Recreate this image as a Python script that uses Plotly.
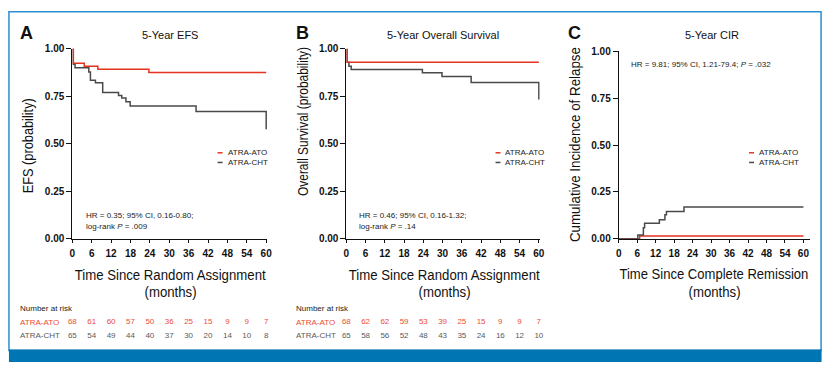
import json
import plotly.graph_objects as go

W, H = 835, 371

# ---------------- data ----------------
months_ticks = [0, 6, 12, 18, 24, 30, 36, 42, 48, 54, 60]
y_ticks = [0, 0.25, 0.5, 0.75, 1.0]
y_ticklabels = ["0.00", "0.25", "0.50", "0.75", "1.00"]

efs_ato_t = [0, 0.3, 3.7, 7.9, 23.7, 60]
efs_ato_s = [1.0, 0.924, 0.908, 0.893, 0.876, 0.876]
efs_cht_t = [0, 0.3, 0.85, 5.1, 5.6, 7.15, 9.4, 14.3, 15.3, 16.6, 17.9, 38.3, 60]
efs_cht_s = [1.0, 0.919, 0.900, 0.878, 0.835, 0.822, 0.771, 0.755, 0.742, 0.722, 0.700, 0.671, 0.577]

os_ato_t = [0, 0.2, 60]
os_ato_s = [1.0, 0.929, 0.929]
os_cht_t = [0, 0.2, 0.8, 1.5, 23.7, 29.8, 38.9, 60]
os_cht_s = [1.0, 0.929, 0.908, 0.891, 0.874, 0.854, 0.823, 0.733]

cir_ato_t = [0, 6.8, 60]
cir_ato_v = [0, 0.016, 0.016]
cir_cht_t = [0, 6.2, 8.0, 8.4, 13.2, 15.0, 15.5, 21.2, 60]
cir_cht_v = [0, 0.021, 0.060, 0.084, 0.102, 0.129, 0.146, 0.170, 0.170]

risk_efs_ato = [68, 61, 60, 57, 50, 36, 25, 15, 9, 9, 7]
risk_efs_cht = [65, 54, 49, 44, 40, 37, 30, 20, 14, 10, 8]
risk_os_ato = [68, 62, 62, 59, 53, 39, 25, 15, 9, 9, 7]
risk_os_cht = [65, 58, 56, 52, 48, 43, 35, 24, 16, 12, 10]

group_names = ["ATRA-ATO", "ATRA-CHT"]
panel_titles = ["5-Year EFS", "5-Year Overall Survival", "5-Year CIR"]
panel_letters = ["A", "B", "C"]
y_titles = ["EFS (probability)", "Overall Survival (probability)", "Cumulative Incidence of Relapse"]
x_titles = ["Time Since Random Assignment", "Time Since Random Assignment", "Time Since Complete Remission"]

# ---------------- style ----------------
RED = "#e4321f"
GRAY = "#4a4a4a"
RISK_RED = "#ee4b35"
RISK_GRAY = "#5a5a5a"
FONT = "Liberation Sans, Arial, Helvetica, sans-serif"
NARROW = "Liberation Sans Narrow, Arial Narrow, Liberation Sans, Arial, sans-serif"


def X(px):
    return px / W


def Y(py):
    return 1 - py / H


fig = go.Figure()

panels = [
    ("x", "y", efs_ato_t, efs_ato_s, efs_cht_t, efs_cht_s),
    ("x2", "y2", os_ato_t, os_ato_s, os_cht_t, os_cht_s),
    ("x3", "y3", cir_ato_t, cir_ato_v, cir_cht_t, cir_cht_v),
]
for i, (xa, ya, rt, rv, gt, gv) in enumerate(panels):
    if i == 2:
        order = [(rt, rv, RED, group_names[0]), (gt, gv, GRAY, group_names[1])]
    else:
        order = [(gt, gv, GRAY, group_names[1]), (rt, rv, RED, group_names[0])]
    for t, v, c, name in order:
        fig.add_trace(go.Scatter(x=t, y=v, mode="lines", line=dict(color=c, width=1.5, shape="hv"),
                                 name=name, xaxis=xa, yaxis=ya, showlegend=False, hoverinfo="skip"))

for xa, ya, ato, cht in [("x", "y4", risk_efs_ato, risk_efs_cht), ("x2", "y5", risk_os_ato, risk_os_cht)]:
    fig.add_trace(go.Scatter(x=months_ticks, y=[1] * len(ato), mode="text", text=[str(v) for v in ato],
                             textfont=dict(family=FONT, size=8, color=RISK_RED), xaxis=xa, yaxis=ya,
                             showlegend=False, cliponaxis=False, hoverinfo="skip"))
    fig.add_trace(go.Scatter(x=months_ticks, y=[0] * len(cht), mode="text", text=[str(v) for v in cht],
                             textfont=dict(family=FONT, size=8, color=RISK_GRAY), xaxis=xa, yaxis=ya,
                             showlegend=False, cliponaxis=False, hoverinfo="skip"))

x_dom = [(70, 266.7), (346.7, 542), (621.7, 815)]
x_rng = [[0, 60.3], [0, 60.3], [0, 62.2]]
y_dom = [(44.3, 240.7), (44.3, 240.7), (46.7, 240.7)]

common_x = dict(showline=True, linecolor="#111", linewidth=1, ticks="outside", ticklen=3, tickcolor="#111",
                tickvals=months_ticks, showgrid=False, zeroline=False,
                tickfont=dict(family=FONT, size=10, color="#111", weight="bold"), ticklabelstandoff=2)
common_y = dict(showline=True, linecolor="#111", linewidth=1, ticks="outside", ticklen=5, tickcolor="#111",
                tickvals=y_ticks, ticktext=y_ticklabels, showgrid=False, zeroline=False, range=[0, 1],
                tickfont=dict(family=FONT, size=10, color="#111", weight="bold"))

layout = dict(width=W, height=H, margin=dict(l=0, r=0, t=0, b=0), paper_bgcolor="white",
              plot_bgcolor="rgba(0,0,0,0)", showlegend=False)
for i in range(3):
    sx = "" if i == 0 else str(i + 1)
    layout["xaxis" + sx] = dict(common_x, domain=[X(x_dom[i][0]), X(x_dom[i][1])], range=x_rng[i],
                                anchor="y" + sx)
    layout["yaxis" + sx] = dict(common_y, domain=[Y(y_dom[i][1]), Y(y_dom[i][0])], anchor="x" + sx)
layout["yaxis4"] = dict(domain=[Y(348), Y(320)], range=[-0.5, 1.5], visible=False, anchor="x")
layout["yaxis5"] = dict(domain=[Y(348), Y(320)], range=[-0.5, 1.5], visible=False, anchor="x2")
fig.update_layout(**layout)

ann = []
shapes = []
squeeze = {}  # text -> target width in px (condensed typeface look)

letter_x = [24, 302.5, 577.5]
title_x = [168.5, 444.5, 716]
for i in range(3):
    ann.append(dict(text="<b>%s</b>" % panel_letters[i], x=X(letter_x[i]), y=Y(27.5), xref="paper", yref="paper",
                    showarrow=False, xanchor="center", yanchor="middle",
                    font=dict(family=FONT, size=18, color="#111")))
    ann.append(dict(text=panel_titles[i], x=X(title_x[i]), y=Y(30), xref="paper", yref="paper",
                    showarrow=False, xanchor="center", yanchor="middle",
                    font=dict(family=FONT, size=11, color="#111")))

ytitle_pos = [(25, 144.5, 15, 95), (302.5, 119.5, 15, 149), (577.5, 142.5, 15.5, 195)]
for i, (xx, yy, fs, wpx) in enumerate(ytitle_pos):
    ann.append(dict(text=y_titles[i], x=X(xx), y=Y(yy), xref="paper", yref="paper", textangle=-90,
                    showarrow=False, xanchor="center", yanchor="middle",
                    font=dict(family=NARROW, size=fs, color="#111")))
    squeeze[y_titles[i]] = wpx

xtitle_x = [169, 446, 718]
xtitle_w = [191, 191, 189]
xtitle_fs = [15.5, 15.5, 14.5]
for i in range(3):
    ann.append(dict(text=x_titles[i], x=X(xtitle_x[i]), y=Y(277), xref="paper", yref="paper",
                    showarrow=False, xanchor="center", yanchor="middle",
                    font=dict(family=NARROW, size=xtitle_fs[i], color="#111")))
    squeeze[x_titles[i]] = xtitle_w[i]
    ann.append(dict(text="(months)", x=X(xtitle_x[i]), y=Y(295), xref="paper", yref="paper",
                    showarrow=False, xanchor="center", yanchor="middle",
                    font=dict(family=NARROW, size=15.5, color="#111")))
squeeze["(months)"] = 52

leg_line = [(216.7, 221.7), (497.3, 502.3), (753.3, 758.3)]
for i in range(3):
    for j, (col, yy) in enumerate([(RED, 151.7), (GRAY, 161.7)]):
        shapes.append(dict(type="line", xref="paper", yref="paper", x0=X(leg_line[i][0]), x1=X(leg_line[i][1]),
                           y0=Y(yy), y1=Y(yy), line=dict(color=col, width=1.5)))
        ann.append(dict(text=group_names[j], x=X(leg_line[i][1] + 3), y=Y(yy), xref="paper", yref="paper",
                        showarrow=False, xanchor="left", yanchor="middle",
                        font=dict(family=FONT, size=8, color="#222")))

hr_texts = [
    (81.7, [(217, "HR = 0.35; 95% CI, 0.16-0.80;"), (227.7, "log-rank <i>P</i> = .009")]),
    (357.3, [(217, "HR = 0.46; 95% CI, 0.16-1.32;"), (227.7, "log-rank <i>P</i> = .14")]),
    (632.3, [(60, "HR = 9.81; 95% CI, 1.21-79.4; <i>P</i> = .032")]),
]
for xx, lines in hr_texts:
    for yy, tx in lines:
        ann.append(dict(text=tx, x=X(xx), y=Y(yy), xref="paper", yref="paper", showarrow=False,
                        xanchor="left", yanchor="middle", font=dict(family=FONT, size=8, color="#222")))

for lx in [15, 294]:
    ann.append(dict(text="Number at risk", x=X(lx), y=Y(313), xref="paper", yref="paper", showarrow=False,
                    xanchor="left", yanchor="middle", font=dict(family=FONT, size=8, color="#222")))
    ann.append(dict(text=group_names[0], x=X(lx), y=Y(327), xref="paper", yref="paper", showarrow=False,
                    xanchor="left", yanchor="middle", font=dict(family=FONT, size=8, color=RISK_RED)))
    ann.append(dict(text=group_names[1], x=X(lx), y=Y(341), xref="paper", yref="paper", showarrow=False,
                    xanchor="left", yanchor="middle", font=dict(family=FONT, size=8, color=RISK_GRAY)))

shapes.append(dict(type="rect", xref="paper", yref="paper", x0=X(6), x1=X(826), y0=Y(356), y1=Y(6),
                   line=dict(color="#2a8fd0", width=1.5), fillcolor="rgba(0,0,0,0)", layer="below"))
shapes.append(dict(type="rect", xref="paper", yref="paper", x0=X(6), x1=X(826.5), y0=Y(368), y1=Y(355),
                   line=dict(width=0), fillcolor="#0075b3"))

fig.update_layout(annotations=ann, shapes=shapes)

post_js = """
(function(){
  document.body.style.margin = '0';
  document.body.style.padding = '0';
  var gd = document.getElementById('{plot_id}');
  var specs = SPECS;
  function sq(){
    var els = gd.querySelectorAll('text.annotation-text');
    for (var k = 0; k < els.length; k++) {
      var t = els[k];
      var w = specs[t.textContent];
      if (w) { t.setAttribute('textLength', w); t.setAttribute('lengthAdjust', 'spacingAndGlyphs'); }
    }
  }
  sq();
  if (gd.on) { gd.on('plotly_afterplot', sq); }
})();
""".replace("SPECS", json.dumps(squeeze))

fig.write_html("out.html", post_script=post_js, config={"displayModeBar": False})
